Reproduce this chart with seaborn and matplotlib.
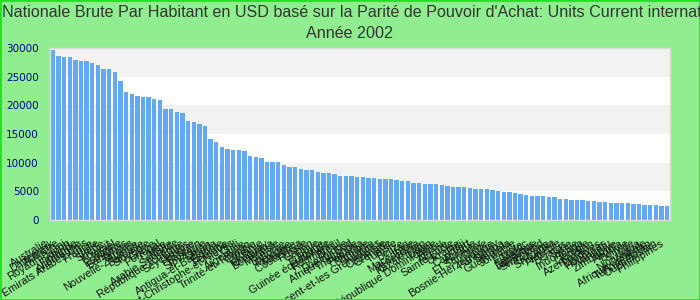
import matplotlib
matplotlib.use("Agg")
import matplotlib.pyplot as plt
import matplotlib.transforms as mtransforms
from matplotlib.patches import Rectangle
import seaborn as sns
import pandas as pd

title_line1 = ("Nationale Brute Par Habitant en USD basé sur la Parité de Pouvoir "
               "d'Achat: Units Current international $")
title_line2 = "Année 2002"

countries = [
    "Australie", "Danemark", "Autriche", "Royaume-Uni", "Japon", "Finlande",
    "Allemagne", "Emirats Arabes Unis", "France", "Italie", "Suède", "Koweït", "Israël",
    "Espagne", "Bahamas", "Taïwan", "Nouvelle-Zélande", "Barbade", "Slovénie", "Grèce",
    "Portugal", "Corée", "Malte", "Arabie Saoudite", "République Tchèque", "Seychelles",
    "Hongrie", "Bahreïn", "Slovaquie", "Oman", "Antigua-et-Barbuda", "Estonie", "Pologne",
    "Saint-Christophe-et-Niévès", "Chili", "Argentine", "Trinité-et-Tobago", "Croatie",
    "Lituanie", "Uruguay", "Botswana", "Malaisie", "Lettonie", "Mexique", "Maurice",
    "Costa Rica", "Russie", "Gabon", "Libye", "Bulgarie", "Guinée équatoriale", "Roumanie",
    "Brésil", "Dominique", "Afrique du Sud", "Thaïlande", "Panama", "Namibie", "Turquie",
    "Saint-Vincent-et-les Grenadines", "Colombie", "Grenade", "Tunisie", "Belize", "Iran",
    "Macédoine", "Venezuela", "Kazakhstan", "Liban", "République Dominicaine", "Pérou",
    "Algérie", "Sainte-Lucie", "Ukraine", "Fidji", "Cap-Vert", "Albanie", "El Salvador",
    "Chine", "Bosnie-Herzégovine", "Paraguay", "Samoa", "Guatemala", "Jordanie", "Égypte",
    "Maroc", "Équateur", "Jamaïque", "Swaziland", "Guyana", "Sri Lanka", "Arménie",
    "Bélarus", "Syrie", "Indonésie", "Tonga", "Géorgie", "Azerbaïdjan", "Maldives",
    "Honduras", "Vanuatu", "Zimbabwe", "Angola", "Bolivie", "Inde", "Nicaragua",
    "Afrique Centrale", "Turkménistan", "Ouzbékistan", "Philippines",
]

gni_ppp = [
    29650, 28600, 28430, 28430, 27900, 27730, 27730, 27380, 27030, 26330,
    26330, 25810, 24240, 22320, 21970, 21620, 21450, 21450, 21100, 20930,
    19360, 19360, 18840, 18660, 17270, 17090, 16740, 16400, 14130, 13600,
    12730, 12380, 12210, 12210, 12030, 11160, 10990, 10810, 10120, 10120,
    10120, 9590, 9240, 9240, 8890, 8720, 8720, 8370, 8200, 8200,
    8020, 7670, 7670, 7670, 7500, 7500, 7330, 7330, 7150, 7150,
    7150, 6980, 6800, 6800, 6450, 6450, 6280, 6280, 6280, 6100,
    5930, 5760, 5760, 5760, 5580, 5410, 5410, 5410, 5230, 5060,
    4880, 4880, 4710, 4530, 4360, 4190, 4190, 4190, 4010, 4010,
    3660, 3660, 3490, 3490, 3490, 3310, 3310, 3140, 3140, 2960,
    2960, 2960, 2960, 2790, 2790, 2620, 2620, 2620, 2440, 2440,
]

y_ticks = [0, 5000, 10000, 15000, 20000, 25000, 30000]

df = pd.DataFrame({"pays": countries, "valeur": gni_ppp})

sns.set_theme(style="white")
plt.rcParams["font.family"] = ["Liberation Sans", "DejaVu Sans"]

fig = plt.figure(figsize=(7, 3), dpi=100, facecolor="#90ee90")
ax = fig.add_axes([50 / 700, 80 / 300, 620 / 700, 172 / 300])
ax.set_facecolor("white")

# alternating bands
for i in range(len(y_ticks) - 1):
    if i % 2 == 1:
        ax.axhspan(y_ticks[i], y_ticks[i + 1], color="#f2f2f2", zorder=0, lw=0)

sns.barplot(data=df, x="pays", y="valeur", color="#62a9f2", saturation=1,
            width=0.78, linewidth=0, ax=ax, zorder=2)

ax.set_xlim(-0.5, len(countries) - 0.5)
ax.set_ylim(0, 30000)
ax.set_yticks(y_ticks)
ax.set_yticklabels([str(v) for v in y_ticks], color="#00008b", fontsize=7.5,
                   family=["DejaVu Sans"])
ax.tick_params(axis="y", length=0, pad=8)
ax.tick_params(axis="x", length=0, pad=2)
ax.set_xlabel("")
ax.set_ylabel("")
ax.set_xticks(range(len(countries)))
ax.set_xticklabels(countries, rotation=32, ha="right", rotation_mode="anchor",
                   fontsize=7.8, color="#111111")
offset = mtransforms.ScaledTranslation(-5.5 / 72, -11 / 72, fig.dpi_scale_trans)
for lab in ax.get_xticklabels():
    lab.set_transform(lab.get_transform() + offset)

for s in ax.spines.values():
    s.set_color("#dddddd")
    s.set_linewidth(1)

fig.text(2 / 700, 1 - 12 / 300, title_line1, ha="left", va="center", fontsize=11.6,
         color="#333333", family=["Liberation Sans", "DejaVu Sans"])
fig.text(0.5, 1 - 33 / 300, title_line2, ha="center", va="center", fontsize=11.6,
         color="#333333", family=["Liberation Sans", "DejaVu Sans"])

fig.patches.append(Rectangle((0, 0), 1, 1, transform=fig.transFigure, fill=False,
                             edgecolor="#22e022", linewidth=2))

fig.savefig("out.png", dpi=100, facecolor=fig.get_facecolor())
